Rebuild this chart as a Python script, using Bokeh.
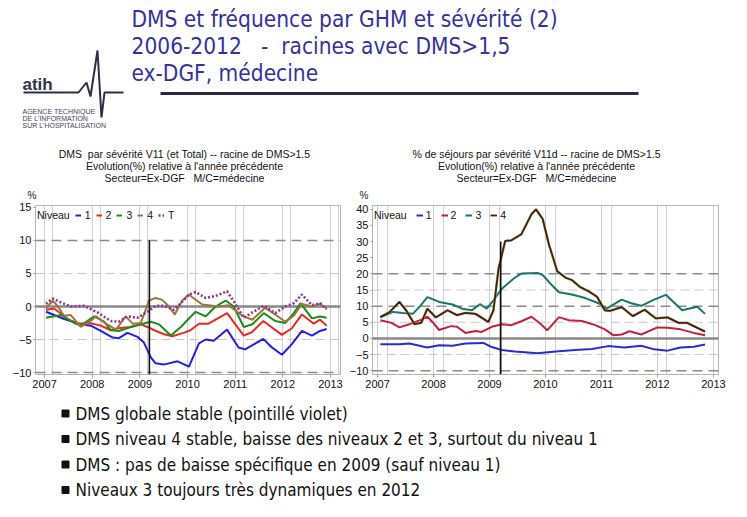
from bokeh.plotting import figure
from bokeh.layouts import column, row
from bokeh.models import Span, Legend, LegendItem, FixedTicker, Range1d
from bokeh.embed import file_html
from bokeh.resources import INLINE
from bokeh.core.properties import value

# ---------------- data ----------------
years = [2007, 2008, 2009, 2010, 2011, 2012, 2013]

# Left chart: DMS evolution (%) by severity level
dms1_x = [2007.03, 2007.41, 2007.76, 2007.97, 2008.18, 2008.43, 2008.56, 2008.74, 2008.95, 2009.08, 2009.23, 2009.33, 2009.5, 2009.79, 2010.03, 2010.24, 2010.38, 2010.55, 2010.83, 2011.07, 2011.21, 2011.59, 2011.77, 2011.98, 2012.19, 2012.4, 2012.61, 2012.78, 2012.92]
dms1_y = [-0.8, -1.9, -2.7, -2.9, -3.7, -4.7, -4.8, -4.0, -4.6, -5.4, -7.7, -8.6, -8.8, -8.3, -9.1, -5.6, -5.0, -5.2, -3.5, -6.2, -6.5, -4.9, -6.2, -7.3, -5.7, -3.7, -4.4, -3.7, -3.4]

dms2_x = [2007.03, 2007.2, 2007.49, 2007.7, 2007.94, 2008.18, 2008.39, 2008.53, 2008.81, 2009.02, 2009.16, 2009.3, 2009.51, 2009.68, 2009.92, 2010.06, 2010.24, 2010.44, 2010.83, 2011.18, 2011.35, 2011.59, 2011.98, 2012.19, 2012.4, 2012.65, 2012.78, 2012.92]
dms2_y = [-0.5, -0.3, -1.9, -2.6, -2.5, -2.9, -3.6, -3.3, -3.1, -2.7, -3.1, -3.6, -4.2, -4.5, -4.0, -3.6, -2.6, -2.6, -1.0, -4.4, -3.9, -2.2, -4.3, -3.3, -1.2, -2.6, -2.0, -2.9]

dms3_x = [2007.03, 2007.35, 2007.62, 2007.76, 2008.04, 2008.25, 2008.39, 2008.56, 2008.81, 2009.02, 2009.23, 2009.4, 2009.65, 2009.86, 2010.06, 2010.17, 2010.38, 2010.59, 2010.8, 2010.97, 2011.18, 2011.36, 2011.6, 2011.84, 2012.05, 2012.23, 2012.37, 2012.61, 2012.78, 2012.92]
dms3_y = [-1.7, -1.3, -2.5, -2.9, -1.5, -2.3, -3.6, -3.7, -3.1, -2.7, -2.3, -2.7, -4.4, -3.1, -1.6, -0.8, -1.5, 0.0, 0.9, 0.0, -3.1, -2.7, -1.0, -2.2, -2.5, -1.0, 0.5, -1.8, -1.5, -1.7]

dms4_x = [2007.03, 2007.17, 2007.28, 2007.41, 2007.55, 2007.76, 2007.94, 2008.08, 2008.29, 2008.5, 2008.7, 2008.85, 2009.02, 2009.19, 2009.33, 2009.47, 2009.61, 2009.73, 2009.89, 2010.03, 2010.1, 2010.31, 2010.65, 2010.86, 2011.15, 2011.36, 2011.63, 2011.88, 2012.05, 2012.23, 2012.4, 2012.61, 2012.78, 2012.92]
dms4_y = [-0.3, 0.9, 0.0, -1.4, -1.3, -3.1, -2.3, -1.5, -2.6, -3.5, -1.5, -2.6, -2.5, 0.9, 1.3, 1.0, 0.0, -1.2, 0.9, 1.8, 1.4, 0.3, 0.0, 0.2, -1.4, -2.0, -0.2, -1.4, -2.3, -1.4, 0.4, 0.0, 0.4, -0.3]

dmsT_x = [2007.03, 2007.17, 2007.35, 2007.55, 2007.83, 2008.11, 2008.39, 2008.56, 2008.74, 2008.95, 2009.16, 2009.33, 2009.5, 2009.71, 2009.86, 2010.03, 2010.17, 2010.38, 2010.59, 2010.83, 2010.97, 2011.18, 2011.36, 2011.6, 2011.84, 2012.05, 2012.23, 2012.4, 2012.61, 2012.78, 2012.92]
dmsT_y = [0.4, 1.2, 0.6, 0.0, 0.1, -0.9, -2.2, -2.3, -1.5, -1.7, -0.8, 0.1, 0.1, -0.5, 0.5, 1.8, 2.2, 1.3, 1.6, 2.3, 0.8, -1.7, -0.9, 0.1, -1.0, 0.0, 0.5, 1.8, 0.2, 0.5, -0.4]

# Right chart: % of stays by severity level
sej1_x = [2007.05, 2007.39, 2007.57, 2007.89, 2008.1, 2008.34, 2008.57, 2008.89, 2009.04, 2009.22, 2009.45, 2009.86, 2010.18, 2010.53, 2010.83, 2011.12, 2011.41, 2011.71, 2011.94, 2012.18, 2012.41, 2012.65, 2012.85]
sej1_y = [-1.8, -1.8, -1.6, -2.8, -2.1, -2.3, -1.6, -1.4, -2.7, -3.6, -4.1, -4.6, -4.1, -3.6, -3.3, -2.4, -2.8, -2.3, -3.4, -3.8, -2.8, -2.6, -1.9]

sej2_x = [2007.05, 2007.25, 2007.39, 2007.57, 2007.75, 2007.89, 2007.98, 2008.1, 2008.31, 2008.42, 2008.57, 2008.75, 2008.86, 2009.04, 2009.22, 2009.39, 2009.57, 2009.75, 2009.92, 2010.03, 2010.24, 2010.42, 2010.65, 2010.89, 2011.06, 2011.21, 2011.36, 2011.5, 2011.71, 2012.0, 2012.18, 2012.41, 2012.65, 2012.85]
sej2_y = [5.6, 4.8, 3.4, 4.4, 5.6, 6.7, 5.1, 2.6, 3.8, 3.6, 1.7, 2.3, 2.0, 3.6, 4.4, 4.1, 5.3, 6.7, 4.4, 2.5, 6.6, 5.6, 5.4, 4.1, 2.8, 1.0, 1.2, 2.2, 1.2, 3.4, 3.3, 2.8, 1.7, 1.0]

sej3_x = [2007.05, 2007.28, 2007.45, 2007.63, 2007.76, 2007.89, 2008.1, 2008.34, 2008.51, 2008.68, 2008.83, 2008.95, 2009.07, 2009.22, 2009.45, 2009.57, 2009.86, 2009.95, 2010.12, 2010.24, 2010.47, 2010.71, 2010.95, 2011.09, 2011.36, 2011.53, 2011.71, 2011.94, 2012.15, 2012.44, 2012.71, 2012.85]
sej3_y = [6.5, 8.2, 7.9, 7.6, 10.0, 12.8, 11.3, 10.5, 9.2, 8.7, 10.6, 9.2, 11.8, 15.4, 18.8, 20.1, 20.3, 19.6, 16.4, 14.3, 13.6, 12.5, 10.9, 9.2, 12.0, 10.9, 10.1, 12.0, 13.5, 8.7, 9.8, 7.6]

sej4_x = [2007.05, 2007.22, 2007.39, 2007.51, 2007.66, 2007.78, 2007.89, 2008.04, 2008.25, 2008.42, 2008.57, 2008.75, 2008.98, 2009.07, 2009.16, 2009.28, 2009.39, 2009.57, 2009.75, 2009.83, 2009.95, 2010.06, 2010.21, 2010.36, 2010.47, 2010.62, 2010.77, 2010.92, 2011.06, 2011.15, 2011.36, 2011.56, 2011.77, 2011.97, 2012.18, 2012.38, 2012.53, 2012.85]
sej4_y = [6.6, 8.2, 11.3, 8.7, 4.4, 4.8, 9.2, 6.5, 8.7, 7.2, 7.9, 7.6, 5.1, 8.7, 21.5, 30.2, 30.4, 32.3, 38.5, 40.0, 37.0, 29.2, 20.8, 18.8, 18.1, 15.9, 14.6, 12.9, 8.7, 8.5, 9.7, 6.9, 8.9, 6.2, 6.5, 4.8, 4.8, 2.1]

# reference lines, event marker, ticks
left_yticks = [-10, -5, 0, 5, 10, 15]
right_yticks = [-10, -5, 0, 5, 10, 15, 20, 25, 30, 35, 40]
left_dark = [10, -10]
left_light = [5, -5]
right_dark = [20, 10, -10]
right_light = [15, 5, -5]
event_x = 2009.2
left_event_top = 10
right_event_top = 30
vgrid_x = [y + d for y in years for d in (0.0, 0.17)]

NB = "\u00a0"
# texts
slide_title = ["DMS et fréquence par GHM et sévérité (2)",
               "2006-2012" + NB * 3 + "-" + NB * 2 + "racines avec DMS>1,5",
               "ex-DGF, médecine"]
left_title = ["DMS" + NB * 2 + "par sévérité V11 (et Total) -- racine de DMS>1.5",
              "Evolution(%) relative à l'année précédente",
              "Secteur=Ex-DGF" + NB * 3 + "M/C=médecine"]
right_title = ["% de séjours par sévérité V11d -- racine de DMS>1.5",
               "Evolution(%) relative à l'année précédente",
               "Secteur=Ex-DGF" + NB * 3 + "M/C=médecine"]
y_unit = "%"
bullets = ["DMS globale stable (pointillé violet)",
           "DMS niveau 4 stable, baisse des niveaux 2 et 3, surtout du niveau 1",
           "DMS : pas de baisse spécifique en 2009 (sauf niveau 1)",
           "Niveaux 3 toujours très dynamiques en 2012"]

FONT = "Liberation Sans"
SLIDE_FONT = "DejaVu Sans Condensed"
CH_H = 195      # chart figure height
CH_TOP = 5
CH_BOT = 21


def chart(width, bl, br, xr, yr, yticks, dark, light, event_top,
          series, glyph_w, standoff, spacing, leg_x):
    p = figure(width=width, height=CH_H, x_range=Range1d(*xr), y_range=Range1d(*yr),
               output_backend="svg", toolbar_location=None, title=None,
               min_border_left=bl, min_border_right=br, min_border_top=CH_TOP,
               min_border_bottom=CH_BOT)

    p.xaxis.ticker = FixedTicker(ticks=years)
    p.yaxis.ticker = FixedTicker(ticks=yticks)
    p.axis.major_label_text_font = FONT
    p.axis.major_label_text_font_size = "11px"
    p.axis.major_label_text_color = "#111111"
    p.axis.axis_line_color = None
    p.axis.minor_tick_line_color = None
    p.axis.major_tick_in = 0
    p.xaxis.major_tick_out = 3
    p.yaxis.major_tick_out = 2
    p.axis.major_tick_line_color = "#999999"
    p.axis.major_label_standoff = 2
    p.ygrid.visible = False
    p.xgrid.ticker = FixedTicker(ticks=vgrid_x)
    p.xgrid.grid_line_color = "#d0d0d0"
    p.outline_line_color = "#b5b5b5"

    for v in light:
        p.add_layout(Span(location=v, dimension="width", line_color="#c8c8c8",
                          line_dash="9 5", line_width=1.2, level="underlay"))
    for v in dark:
        p.add_layout(Span(location=v, dimension="width", line_color="#8c8c8c",
                          line_dash="10 6", line_width=1.5, level="underlay"))
    p.add_layout(Span(location=0, dimension="width", line_color="#888888",
                      line_width=2.5, level="underlay"))

    dummy = p.line([], [], line_alpha=0)
    items = [LegendItem(label="Niveau", renderers=[dummy])]
    for (xs, ys, lab, col, dash, lw, under) in series:
        if under:
            p.line(xs, ys, line_color=under, line_width=lw + 0.9, line_alpha=0.8)
        r = p.line(xs, ys, line_color=col, line_width=lw, line_dash=dash)
        items.append(LegendItem(label=lab, renderers=[r]))

    p.segment(x0=[event_x], y0=[event_top], x1=[event_x], y1=[yr[0]],
              line_color="#111111", line_width=1.6)

    frame_h = CH_H - CH_TOP - CH_BOT
    leg = Legend(items=items, orientation="horizontal", location=(leg_x, frame_h - 16),
                 label_text_font=FONT, label_text_font_size="10.5px",
                 label_text_color="#111111", label_height=12, label_width=0,
                 glyph_height=10, glyph_width=glyph_w, label_standoff=standoff,
                 spacing=spacing, padding=0, margin=0,
                 background_fill_alpha=0, border_line_alpha=0)
    p.add_layout(leg)
    return p


left_series = [
    (dms1_x, dms1_y, "1", "#2222dd", "solid", 2, None),
    (dms2_x, dms2_y, "2", "#e82a22", "solid", 2, None),
    (dms3_x, dms3_y, "3", "#1f8a1f", "solid", 2, None),
    (dms4_x, dms4_y, "4", "#9c7636", "solid", 2, None),
    (dmsT_x, dmsT_y, "T", "#8e3596", "2 2", 2.6, None),
]
right_series = [
    (sej1_x, sej1_y, "1", "#2b2bcf", "solid", 2, None),
    (sej2_x, sej2_y, "2", "#c4203e", "solid", 2, None),
    (sej3_x, sej3_y, "3", "#1d7565", "solid", 2, None),
    (sej4_x, sej4_y, "4", "#3b2412", "solid", 1.8, "#c9a46a"),
]

left = chart(346, 35, 6, (2006.81, 2013.21), (-10.3, 15.3), left_yticks,
             left_dark, left_light, left_event_top, left_series, 6, 4, 5, -8)
right = chart(401, 22, 29, (2006.91, 2013.09), (-11.2, 41.2), right_yticks,
              right_dark, right_light, right_event_top, right_series, 7, 3, 9, -8)

# ---------------- header (slide title, logo, chart titles) ----------------
HDR_H = 200
hdr = figure(width=747, height=HDR_H, x_range=Range1d(0, 747), y_range=Range1d(HDR_H, 0),
             output_backend="svg", toolbar_location=None, min_border=0, title=None)
hdr.axis.visible = False
hdr.grid.visible = False
hdr.outline_line_color = None
hdr.text(x=[131, 131, 131], y=[18, 45, 72], text=slide_title,
         text_font=value(SLIDE_FONT), text_font_size="22.5px", text_color="#333399",
         text_baseline="middle")
hdr.line(x=[160, 638], y=[93, 93], line_color="#2a2a48", line_width=3)
hdr.line(x=[23, 78, 86, 90, 97, 101, 104, 123], y=[92, 92, 82, 96, 50, 117, 92, 92],
         line_color="#2e2e4a", line_width=2)
hdr.text(x=[22], y=[84], text=["atih"], text_font=value(FONT), text_font_size="17px",
         text_font_style="bold", text_color="#33334a", text_baseline="middle")
hdr.text(x=[22, 22, 22], y=[111, 118, 125],
         text=["AGENCE TECHNIQUE", "DE L'INFORMATION", "SUR L'HOSPITALISATION"],
         text_font=value(FONT), text_font_size="7px", text_color="#444455",
         text_baseline="middle")
title_rows = [153, 165, 177]
hdr.text(x=[184] * 3, y=title_rows, text=left_title, text_font=value(FONT),
         text_font_size="10.5px", text_color="#111111", text_align="center",
         text_baseline="middle")
hdr.text(x=[536] * 3, y=title_rows, text=right_title, text_font=value(FONT),
         text_font_size="10.5px", text_color="#111111", text_align="center",
         text_baseline="middle")
hdr.text(x=[27, 359], y=[195, 195], text=[y_unit, y_unit], text_font=value(FONT),
         text_font_size="10px", text_color="#222222", text_baseline="middle")

# ---------------- bullets ----------------
bul = figure(width=747, height=122, x_range=Range1d(0, 747), y_range=Range1d(517, 395),
             output_backend="svg", toolbar_location=None, min_border=0, title=None)
bul.axis.visible = False
bul.grid.visible = False
bul.outline_line_color = None
by = [413 + 25.5 * i for i in range(len(bullets))]
bul.scatter(x=[65] * len(bullets), y=by, marker="square", size=7, color="#111111")
bul.text(x=[75] * len(bullets), y=by, text=bullets, text_font=value(SLIDE_FONT),
         text_font_size="17px", text_color="#111111", text_baseline="middle")

page = column(hdr, row(left, right), bul)
open("out.html", "w").write(file_html(page, INLINE))
